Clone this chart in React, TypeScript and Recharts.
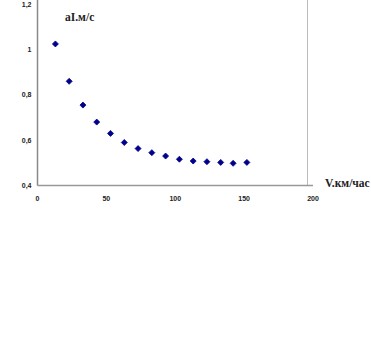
import React from 'react';
import { ScatterChart, Scatter, XAxis, YAxis, ReferenceLine } from 'recharts';

const SPEED = [13, 23, 33, 43, 53, 63, 73, 83, 93, 103, 113, 123, 133, 142, 152];
const ACCEL = [1.025, 0.86, 0.755, 0.68, 0.63, 0.59, 0.563, 0.545, 0.53, 0.516, 0.508, 0.505, 0.502, 0.498, 0.502];
const X_TICKS = [0, 50, 100, 150, 200];
const Y_TICKS = [0.4, 0.6, 0.8, 1, 1.2];

const MARK = '#00008B';
const SHIFT = 60;

const data = SPEED.map((v, i) => ({ v, a: ACCEL[i] }));

const tickStyle = { fill: '#222', fontSize: 7, fontWeight: 700, fontFamily: '"Liberation Sans", Arial, sans-serif' };
const labelStyle: React.CSSProperties = {
  position: 'absolute',
  fontFamily: '"Liberation Serif", "Times New Roman", serif',
  fontSize: 11.5,
  fontWeight: 700,
  color: '#222',
  lineHeight: '14px',
  whiteSpace: 'nowrap',
};

// small diamond point, like the spreadsheet marker
const Dot = (p: any) => {
  const { cx, cy } = p;
  const r = 3;
  return (
    <path
      d={`M${cx},${cy - r} L${cx + r},${cy} L${cx},${cy + r} L${cx - r},${cy} Z`}
      fill={MARK}
      stroke={MARK}
      strokeWidth={0.8}
      strokeLinejoin="round"
    />
  );
};

export default function App() {
  return (
    <div style={{ position: 'absolute', left: 0, top: 0, width: 371, height: 347, overflow: 'hidden', background: '#fff' }}>
      <div style={{ position: 'absolute', left: 0, top: -SHIFT }}>
        <ScatterChart width={371} height={407} margin={{ top: 19, right: 58, bottom: 131.5, left: 7.5 }}>
          <XAxis
            type="number"
            dataKey="v"
            domain={[0, 200]}
            ticks={X_TICKS}
            tick={tickStyle}
            tickLine={false}
            tickSize={9}
            tickMargin={2}
            axisLine={{ stroke: '#999', strokeWidth: 1.5 }}
            height={30}
          />
          <YAxis
            type="number"
            dataKey="a"
            domain={[0.4, 1.4]}
            ticks={Y_TICKS}
            tickFormatter={(t: number) => String(t).replace('.', ',')}
            tick={tickStyle}
            tickLine={false}
            tickSize={4}
            tickMargin={2}
            axisLine={{ stroke: '#888', strokeWidth: 1.5 }}
            width={30}
          />
          <ReferenceLine x={196} stroke="#bbb" strokeWidth={1} />
          <Scatter data={data} fill={MARK} shape={Dot} isAnimationActive={false} />
        </ScatterChart>
      </div>
      <div style={{ ...labelStyle, left: 65, top: 10 }}>aI.м/с</div>
      <div style={{ ...labelStyle, left: 325, top: 176 }}>V.км/час</div>
    </div>
  );
}
